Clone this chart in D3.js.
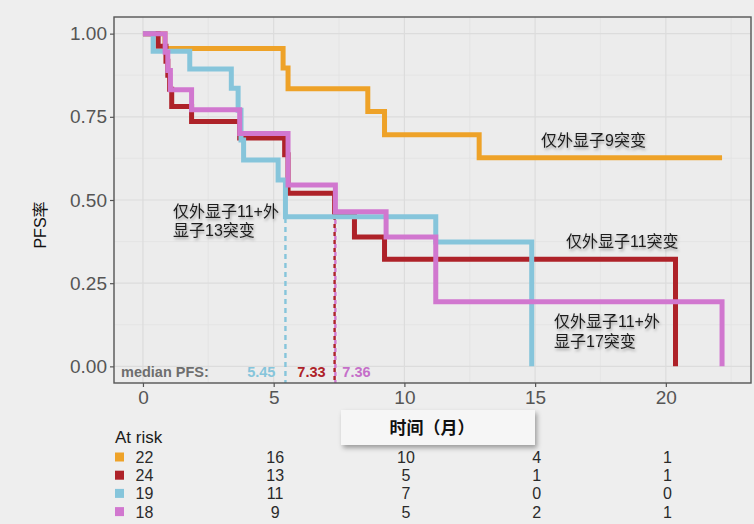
<!DOCTYPE html>
<html>
<head>
<meta charset="utf-8">
<script src="https://cdn.jsdelivr.net/npm/d3@7"></script>
<style>
  html, body { margin: 0; padding: 0; background: #eeeeee; }
  svg { display: block; }
</style>
</head>
<body>
<svg id="chart" width="754" height="524"></svg>
<script>
// Kaplan–Meier step points (time in months, PFS probability)
const orangeTime = [0, 0.84, 5.36, 5.55, 8.6, 9.24, 12.86, 22.15];
const orangeSurv = [1, 0.955, 0.897, 0.834, 0.766, 0.696, 0.627, 0.627];

const redTime = [0, 0.58, 0.88, 0.95, 1.02, 1.1, 1.86, 3.7, 5.42, 5.55, 7.33, 8.09, 9.24, 20.37];
const redSurv = [1, 0.962, 0.917, 0.875, 0.833, 0.781, 0.736, 0.686, 0.636, 0.52, 0.46, 0.389, 0.322, 0];

const blueTime = [0, 0.39, 1.79, 3.38, 3.64, 3.75, 3.85, 5.17, 5.45, 11.2, 14.87];
const blueSurv = [1, 0.947, 0.894, 0.836, 0.77, 0.68, 0.62, 0.56, 0.45, 0.374, 0];

const pinkTime = [0, 0.85, 0.95, 1.05, 1.86, 3.7, 5.55, 7.36, 9.3, 11.2, 22.15];
const pinkSurv = [1, 0.944, 0.889, 0.831, 0.771, 0.70, 0.545, 0.465, 0.389, 0.194, 0];

// median PFS per group
const medianValues = [5.45, 7.33, 7.36];

// number at risk table
const riskTimes = [0, 5, 10, 15, 20];
const riskOrange = [22, 16, 10, 4, 1];
const riskRed = [24, 13, 5, 1, 1];
const riskBlue = [19, 11, 7, 0, 0];
const riskPink = [18, 9, 5, 2, 1];

const xTicks = [0, 5, 10, 15, 20];
const yTicks = [0, 0.25, 0.5, 0.75, 1];
const yTickLabels = ["0.00", "0.25", "0.50", "0.75", "1.00"];

const groupLabels = ["仅外显子9突变", "仅外显子11突变", "仅外显子11+外显子13突变", "仅外显子11+外显子17突变"];

const colors = { orange: "#eea228", red: "#ae2229", blue: "#86c5db", pink: "#d177cf" };

const svg = d3.select("#chart");
const font = "'Liberation Sans', Arial, 'Noto Sans CJK SC', sans-serif";

const xMax = 22.15;
const x = d3.scaleLinear().domain([-0.05 * xMax, 1.05 * xMax]).range([114, 751]);
const y = d3.scaleLinear().domain([-0.05, 1.05]).range([383, 17]);

// drop shadow used on annotations and the axis title box
const defs = svg.append("defs");
const sh = defs.append("filter").attr("id", "shadow").attr("x", "-20%").attr("y", "-30%").attr("width", "140%").attr("height", "170%");
sh.append("feDropShadow").attr("dx", 1).attr("dy", 2).attr("stdDeviation", 1.6)
  .attr("flood-color", "#000").attr("flood-opacity", 0.35);
const bs = defs.append("filter").attr("id", "boxshadow").attr("x", "-10%").attr("y", "-30%").attr("width", "120%").attr("height", "180%");
bs.append("feDropShadow").attr("dx", 2).attr("dy", 3).attr("stdDeviation", 2.5)
  .attr("flood-color", "#000").attr("flood-opacity", 0.35);

// panel
svg.append("rect").attr("x", 114).attr("y", 17).attr("width", 637).attr("height", 366)
  .attr("fill", "#ececec");

const grid = svg.append("g");
const minorX = d3.range(0, 23, 2.5).filter(v => v % 5 !== 0);
const minorY = [0.125, 0.375, 0.625, 0.875];
grid.selectAll(".mx").data(minorX).join("line")
  .attr("x1", d => x(d)).attr("x2", d => x(d)).attr("y1", 17).attr("y2", 383)
  .attr("stroke", "#e3e3e3").attr("stroke-width", 0.8);
grid.selectAll(".my").data(minorY).join("line")
  .attr("y1", d => y(d)).attr("y2", d => y(d)).attr("x1", 114).attr("x2", 751)
  .attr("stroke", "#e3e3e3").attr("stroke-width", 0.8);
grid.selectAll(".gx").data(xTicks).join("line")
  .attr("x1", d => x(d)).attr("x2", d => x(d)).attr("y1", 17).attr("y2", 383)
  .attr("stroke", "#dcdcdc").attr("stroke-width", 1.2);
grid.selectAll(".gy").data(yTicks).join("line")
  .attr("y1", d => y(d)).attr("y2", d => y(d)).attr("x1", 114).attr("x2", 751)
  .attr("stroke", "#dcdcdc").attr("stroke-width", 1.2);

// median dashed lines
const medColors = [colors.blue, colors.red, colors.pink];
const medDash = ["5,4", "4,4", "4,4"];
const medOffset = [0, 0, 4];
svg.append("g").selectAll("line").data(medianValues).join("line")
  .attr("x1", d => x(d)).attr("x2", d => x(d))
  .attr("y1", y(0.5)).attr("y2", 383)
  .attr("stroke", (d, i) => medColors[i]).attr("stroke-width", 2.4)
  .attr("stroke-dasharray", (d, i) => medDash[i])
  .attr("stroke-dashoffset", (d, i) => medOffset[i]);

// survival curves
const series = [
  { t: orangeTime, s: orangeSurv, c: colors.orange },
  { t: redTime, s: redSurv, c: colors.red },
  { t: blueTime, s: blueSurv, c: colors.blue },
  { t: pinkTime, s: pinkSurv, c: colors.pink }
];
const stepLine = d3.line().x(d => x(d[0])).y(d => y(d[1])).curve(d3.curveStepAfter);
svg.append("g").selectAll("path").data(series).join("path")
  .attr("d", d => stepLine(d.t.map((t, i) => [t, d.s[i]])))
  .attr("fill", "none").attr("stroke", d => d.c).attr("stroke-width", 5)
  .attr("stroke-linejoin", "miter");

// panel border
svg.append("rect").attr("x", 114).attr("y", 17).attr("width", 637).attr("height", 366)
  .attr("fill", "none").attr("stroke", "#555").attr("stroke-width", 1.4);

// axes
const yAxis = svg.append("g").attr("transform", "translate(114,0)")
  .call(d3.axisLeft(y).tickValues(yTicks).tickFormat((d, i) => yTickLabels[i]).tickSize(4).tickPadding(3));
const xAxis = svg.append("g").attr("transform", "translate(0,383)")
  .call(d3.axisBottom(x).tickValues(xTicks).tickSize(4).tickPadding(4));
[xAxis, yAxis].forEach(a => {
  a.select(".domain").remove();
  a.selectAll(".tick line").attr("stroke", "#555").attr("stroke-width", 1.2);
  a.selectAll(".tick text").attr("fill", "#555").style("font-size", "19px").style("font-family", font);
});

// median PFS labels
const medText = svg.append("g").style("font-family", font).style("font-weight", "bold").style("font-size", "14.5px");
medText.append("text").attr("x", 121).attr("y", 377).attr("fill", "#6e6e6e").text("median PFS:");
medText.append("text").attr("x", x(medianValues[0]) - 10).attr("y", 377).attr("text-anchor", "end")
  .attr("fill", colors.blue).text(medianValues[0].toFixed(2));
medText.append("text").attr("x", x(medianValues[1]) - 9).attr("y", 377).attr("text-anchor", "end")
  .attr("fill", colors.red).text(medianValues[1].toFixed(2));
medText.append("text").attr("x", x(medianValues[2]) + 7).attr("y", 377)
  .attr("fill", "#c56fc9").text(medianValues[2].toFixed(2));

// group annotations
const ann = svg.append("g").style("font-family", font).style("font-size", "16px")
  .attr("fill", "#1e1e1e").attr("filter", "url(#shadow)");
ann.append("text").attr("x", 541).attr("y", 146).text(groupLabels[0]);
ann.append("text").attr("x", 566).attr("y", 247).text(groupLabels[1]);
const a3 = ann.append("text").attr("x", 173).attr("y", 217);
a3.append("tspan").attr("x", 173).text("仅外显子11+外");
a3.append("tspan").attr("x", 173).attr("y", 236).text("显子13突变");
const a4 = ann.append("text").attr("x", 554).attr("y", 327);
a4.append("tspan").attr("x", 554).text("仅外显子11+外");
a4.append("tspan").attr("x", 554).attr("y", 347).text("显子17突变");

// y axis title
svg.append("text").attr("transform", "translate(46,225) rotate(-90)")
  .attr("text-anchor", "middle").style("font-family", font).style("font-size", "16px")
  .attr("fill", "#111").text("PFS率");

// x axis title box
svg.append("rect").attr("x", 341).attr("y", 410).attr("width", 194).attr("height", 35)
  .attr("fill", "#f6f6f6").attr("filter", "url(#boxshadow)");
svg.append("text").attr("x", 432).attr("y", 434).attr("text-anchor", "middle")
  .style("font-family", font).style("font-size", "17px").style("font-weight", "bold")
  .attr("fill", "#111").text("时间（月）");

// number at risk table
const risk = svg.append("g").style("font-family", font);
risk.append("text").attr("x", 115).attr("y", 443).style("font-size", "17px").attr("fill", "#1a1a1a").text("At risk");
const rows = [
  { v: riskOrange, c: colors.orange },
  { v: riskRed, c: colors.red },
  { v: riskBlue, c: colors.blue },
  { v: riskPink, c: colors.pink }
];
rows.forEach((r, i) => {
  const base = 463 + i * 18.2;
  risk.append("rect").attr("x", 115).attr("y", base - 10.5).attr("width", 9).attr("height", 9).attr("fill", r.c);
  risk.selectAll(null).data(r.v).join("text")
    .attr("x", (d, j) => x(riskTimes[j]) + 1.5).attr("y", base)
    .attr("text-anchor", "middle").style("font-size", "16px").attr("fill", "#2a2a2a")
    .text(d => d);
});
</script>
</body>
</html>
